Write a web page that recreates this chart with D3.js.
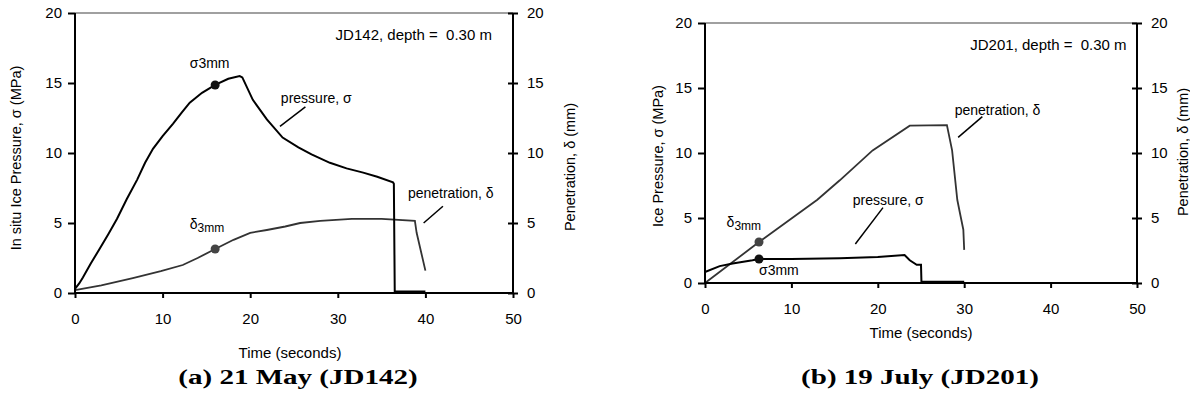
<!DOCTYPE html>
<html>
<head>
<meta charset="utf-8">
<script src="https://cdn.jsdelivr.net/npm/d3@7"></script>
<style>
  body { margin: 0; background: #fff; }
  text { font-family: "Liberation Sans", Arial, sans-serif; fill: #000; }
  .title { font-family: "Liberation Serif", "Times New Roman", serif; font-weight: bold; font-size: 22px; }
</style>
</head>
<body>
<div id="chart"></div>
<script>
// Ice pressure / penetration time series, two tests

// (a) 21 May, JD142 : [time s, value]
var pressureA = [[0,0.3],[0.5,0.7],[0.9,1.1],[1.8,2.1],[2.85,3.2],[3.8,4.2],[4.8,5.3],[5.9,6.7],[7.1,8.1],
  [8.0,9.3],[8.9,10.3],[10,11.2],[11.2,12.1],[12.2,12.9],[13.1,13.6],[14.5,14.3],[16,14.86],[17.5,15.3],
  [18.8,15.5],[19.1,15.4],[20.3,13.8],[21.9,12.4],[23.7,11.1],[25.5,10.4],[27,9.9],[29.1,9.3],[31,8.9],
  [32.9,8.6],[34.5,8.3],[36.3,7.9],[36.4,7.8],[36.5,0.1],[40,0.1]];
var penetrationA = [[0,0.2],[3,0.55],[6.6,1.07],[9.8,1.57],[12.3,2.0],[14,2.5],[16,3.14],[18.1,3.8],
  [20,4.3],[21.9,4.5],[24,4.75],[25.7,5.0],[28,5.15],[31.6,5.3],[35,5.3],[38.8,5.15],[39,4.3],[40,1.6]];
var pointsA = [{ t: 16, v: 14.86, c: "#111" }, { t: 16, v: 3.14, c: "#444" }];

// (b) 19 July, JD201
var pressureB = [[0,0.85],[1.7,1.3],[3.2,1.5],[5.5,1.75],[6.25,1.85],[10,1.85],[15.6,1.9],[20,2.0],
  [23.1,2.15],[23.7,1.75],[24.5,1.4],[25,1.4],[25.05,0.1],[30,0.1]];
var penetrationB = [[0,0],[6.25,3.15],[13,6.4],[15.6,7.9],[19.4,10.2],[23.7,12.1],[28,12.15],[28.6,10.2],
  [29.2,6.4],[29.5,5.4],[29.9,4.1],[30,2.55]];
var pointsB = [{ t: 6.25, v: 3.15, c: "#444" }, { t: 6.25, v: 1.85, c: "#111" }];

var xTicks = [0, 10, 20, 30, 40, 50];
var yTicks = [0, 5, 10, 15, 20];

var svg = d3.select("#chart").append("svg")
  .attr("width", 1190).attr("height", 400);

function drawPanel(cfg) {
  var x = d3.scaleLinear().domain([0, 50]).range([cfg.left, cfg.right]);
  var y = d3.scaleLinear().domain([0, 20]).range([cfg.bottom, cfg.top]);
  var g = svg.append("g");

  // gray frame top
  g.append("line")
    .attr("x1", x(0)).attr("x2", x(50)).attr("y1", y(20)).attr("y2", y(20))
    .attr("stroke", "#808080").attr("stroke-width", 1.5);

  var line = d3.line().x(function(d) { return x(d[0]); }).y(function(d) { return y(d[1]); });

  g.append("path").datum(cfg.penetration).attr("d", line)
    .attr("fill", "none").attr("stroke", "#333").attr("stroke-width", 1.8);
  g.append("path").datum(cfg.pressure).attr("d", line)
    .attr("fill", "none").attr("stroke", "#000").attr("stroke-width", 2);

  // axes
  var ax = g.append("g").attr("transform", "translate(0," + cfg.bottom + ")")
    .call(d3.axisBottom(x).tickValues(xTicks).tickSize(5).tickPadding(15));
  var ayl = g.append("g").attr("transform", "translate(" + cfg.left + ",0)")
    .call(d3.axisLeft(y).tickValues(yTicks).tickSize(7).tickPadding(6));
  var ayr = g.append("g").attr("transform", "translate(" + cfg.right + ",0)")
    .call(d3.axisRight(y).tickValues(yTicks).tickSize(5).tickPadding(9));
  ayr.selectAll(".tick line").attr("x1", -5);
  [ax, ayl, ayr].forEach(function(a) {
    a.select(".domain").attr("stroke", "#000").attr("stroke-width", 2);
    a.selectAll(".tick line").attr("stroke", "#000").attr("stroke-width", 2);
    a.selectAll("text").attr("font-size", 15).attr("font-family", "Liberation Sans, Arial, sans-serif");
  });
  ax.select(".domain").attr("d", "M" + x(0) + ",0H" + x(50));
  ayl.select(".domain").attr("d", "M0," + y(0) + "V" + y(20));
  ayr.select(".domain").attr("d", "M0," + y(0) + "V" + y(20));

  // 3 mm markers
  g.selectAll(".pt").data(cfg.points).enter().append("circle")
    .attr("cx", function(d) { return x(d.t); }).attr("cy", function(d) { return y(d.v); })
    .attr("r", 4.5).attr("fill", function(d) { return d.c; });

  // annotation text
  cfg.notes.forEach(function(n) {
    var t = g.append("text").attr("x", x(n.t)).attr("y", y(n.v))
      .attr("font-size", n.size || 14).attr("text-anchor", n.anchor || "start");
    t.append("tspan").text(n.main);
    if (n.sub) t.append("tspan").attr("font-size", 12).attr("dy", 3).text(n.sub);
  });
  cfg.leaders.forEach(function(l) {
    g.append("line").attr("x1", x(l[0])).attr("y1", y(l[1])).attr("x2", x(l[2])).attr("y2", y(l[3]))
      .attr("stroke", "#000").attr("stroke-width", 1.5);
  });

  // axis labels
  g.append("text").attr("transform", "translate(" + cfg.ylx + "," + cfg.yly + ") rotate(-90)")
    .attr("text-anchor", "middle").attr("font-size", 14.5).text(cfg.yLabel);
  g.append("text").attr("transform", "translate(" + cfg.y2x + "," + cfg.y2y + ") rotate(-90)")
    .attr("text-anchor", "middle").attr("font-size", 14.5).text("Penetration, δ (mm)");
  g.append("text").attr("x", cfg.xlx).attr("y", cfg.xly)
    .attr("text-anchor", "middle").attr("font-size", 15).text("Time (seconds)");
  // caption is set wide in the original, stretch glyphs horizontally
  g.append("text").attr("class", "title")
    .attr("transform", "translate(" + cfg.tx + ",384) scale(1.32,1)")
    .attr("text-anchor", "middle")
    .text(cfg.title);
}

drawPanel({
  left: 75, right: 513, top: 13, bottom: 293,
  pressure: pressureA, penetration: penetrationA, points: pointsA,
  notes: [
    { t: 47.6, v: 18.1, main: "JD142, depth = \u00a00.30 m", anchor: "end", size: 15 },
    { t: 13.1, v: 16.1, main: "σ3mm" },
    { t: 23.5, v: 13.6, main: "pressure, σ" },
    { t: 38.0, v: 6.8, main: "penetration, δ" },
    { t: 13.1, v: 4.6, main: "δ", sub: "3mm" }
  ],
  leaders: [[23.4, 11.9, 26.3, 13.3], [39.8, 5.0, 42.0, 6.2]],
  yLabel: "In situ Ice Pressure, σ (MPa)", ylx: 21, yly: 158,
  y2x: 575, y2y: 167,
  xlx: 290, xly: 358,
  tx: 298, title: "(a) 21 May (JD142)"
});

drawPanel({
  left: 705, right: 1137, top: 23, bottom: 283,
  pressure: pressureB, penetration: penetrationB, points: pointsB,
  notes: [
    { t: 48.8, v: 17.9, main: "JD201, depth = \u00a00.30 m", anchor: "end", size: 15 },
    { t: 28.9, v: 12.9, main: "penetration, δ" },
    { t: 17.1, v: 6.0, main: "pressure, σ" },
    { t: 2.5, v: 4.3, main: "δ", sub: "3mm" },
    { t: 6.25, v: 0.6, main: "σ3mm" }
  ],
  leaders: [[29.3, 11.2, 32.1, 12.8], [17.4, 3.0, 20.6, 5.8]],
  yLabel: "Ice Pressure, σ (MPa)", ylx: 663, yly: 156,
  y2x: 1188, y2y: 152,
  xlx: 921, xly: 338,
  tx: 920, title: "(b) 19 July (JD201)"
});
</script>
</body>
</html>
